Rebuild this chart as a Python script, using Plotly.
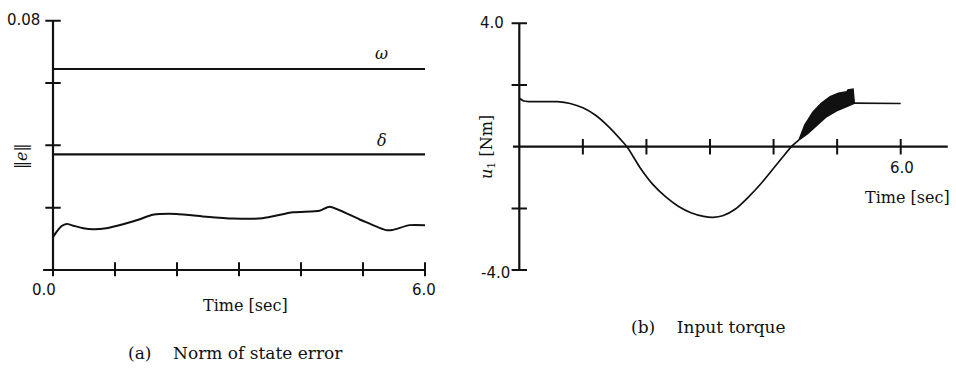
import plotly.graph_objects as go

W, H = 956, 368

# (a) norm of state error
t_err = [0.0, 0.06, 0.14, 0.22, 0.33, 0.49, 0.65, 0.86, 1.02, 1.13, 1.4, 1.61, 1.99,
         2.47, 2.90, 3.38, 3.87, 4.30, 4.46, 4.94, 5.37, 5.47, 5.75, 6.0]
e_norm = [0.0105, 0.0123, 0.0141, 0.0148, 0.0142, 0.0134, 0.0131, 0.0134, 0.0141, 0.0147,
          0.0163, 0.0177, 0.0180, 0.0171, 0.0165, 0.0166, 0.0185, 0.0190, 0.0203, 0.0163,
          0.0128, 0.0128, 0.0144, 0.0144]
bound_omega = 0.0645
bound_delta = 0.0371
err_xticks = [0, 1, 2, 3, 4, 5, 6]
err_yticks = [0.02, 0.04, 0.06, 0.08]

# (b) input torque
t_u = [0.0, 0.07, 0.15, 0.6, 0.8, 1.0, 1.2, 1.4, 1.6, 1.7, 1.9, 2.1, 2.3, 2.5, 2.7, 2.9,
       3.05, 3.2, 3.4, 3.6, 3.8, 4.0, 4.15, 4.28, 4.40]
u1 = [1.57, 1.48, 1.46, 1.46, 1.40, 1.26, 1.02, 0.66, 0.22, -0.02, -0.68, -1.22, -1.62,
      -1.93, -2.14, -2.26, -2.29, -2.24, -2.02, -1.64, -1.20, -0.70, -0.32, 0.0, 0.22]
# chattering band: upper and lower envelopes
t_band_hi = [4.40, 4.49, 4.62, 4.75, 4.89, 5.02, 5.15, 5.17, 5.25, 5.27]
u_band_hi = [0.22, 0.70, 1.13, 1.41, 1.62, 1.73, 1.78, 1.84, 1.87, 1.41]
t_band_lo = [5.27, 5.15, 4.99, 4.83, 4.68, 4.54, 4.40]
u_band_lo = [1.41, 1.30, 1.16, 0.97, 0.70, 0.43, 0.22]
t_tail = [5.27, 5.30, 6.0]
u_tail = [1.41, 1.41, 1.40]
u_xticks = [1, 2, 3, 4, 5, 6]
u_yticks = [-4, -2, 2, 4]

INK = "#111111"
SERIF = "DejaVu Serif"
SANS = "DejaVu Sans"


def px(x):
    return x / W


def py(y):
    return 1 - y / H


fig = go.Figure()


def line(x, y, xa, ya, width=1.8, shape="linear"):
    fig.add_trace(go.Scatter(x=x, y=y, mode="lines", xaxis=xa, yaxis=ya,
                             line=dict(color=INK, width=width, shape=shape, smoothing=0.6),
                             hoverinfo="skip"))


def ticks(x, y, xa, ya, symbol):
    fig.add_trace(go.Scatter(x=x, y=y, mode="markers", xaxis=xa, yaxis=ya,
                             marker=dict(symbol=symbol, size=11,
                                         line=dict(color=INK, width=2)),
                             hoverinfo="skip"))


# ---- panel (a) ----
line([-0.16, 6.0], [0, 0], "x", "y", width=2.2)
line([0, 0], [-0.0002, 0.08], "x", "y", width=2.2)
ticks(err_xticks, [0] * len(err_xticks), "x", "y", "line-ns")
ticks([0] * len(err_yticks), err_yticks, "x", "y", "line-ew")
line([0, 6.0], [bound_omega, bound_omega], "x", "y", width=2.2)
line([0, 6.0], [bound_delta, bound_delta], "x", "y", width=2.2)
line(t_err, e_norm, "x", "y", width=2, shape="spline")

# ---- panel (b) ----
line([-0.1, 6.74], [0, 0], "x2", "y2", width=2.2)
line([0, 0], [-4, 4], "x2", "y2", width=2.2)
ticks(u_xticks, [0] * len(u_xticks), "x2", "y2", "line-ns")
ticks([0] * len(u_yticks), u_yticks, "x2", "y2", "line-ew")
line(t_u, u1, "x2", "y2", width=1.7, shape="spline")
fig.add_trace(go.Scatter(x=t_band_hi + t_band_lo, y=u_band_hi + u_band_lo, mode="lines",
                         xaxis="x2", yaxis="y2", fill="toself", fillcolor=INK,
                         line=dict(color=INK, width=1.5), hoverinfo="skip"))
line(t_tail, u_tail, "x2", "y2", width=1.7)

# axis placement in pixels: (a) t 0..6 -> 53..425, e 0..0.08 -> 270..20.7
ax_a = dict(x0=53 - 0.2 * 62, x1=53 + 6.1 * 62, y0=270 + 0.002 * 3116, y1=20.7 - 0.002 * 3116)
# (b) t 0..6 -> 519.3..900.7, u -4..4 -> 270.7..24
sx_b, sy_b = 63.57, 30.84
ax_b = dict(x0=519.3 - 0.2 * sx_b, x1=519.3 + 6.75 * sx_b, y0=146.7 + 4.2 * sy_b, y1=146.7 - 4.2 * sy_b)

hidden = dict(visible=False, showgrid=False, zeroline=False, fixedrange=True)
fig.update_layout(
    width=W, height=H, margin=dict(l=0, r=0, t=0, b=0),
    paper_bgcolor="white", plot_bgcolor="white", showlegend=False,
    xaxis=dict(domain=[px(ax_a["x0"]), px(ax_a["x1"])], range=[-0.2, 6.1], anchor="y", **hidden),
    yaxis=dict(domain=[py(ax_a["y0"]), py(ax_a["y1"])], range=[-0.002, 0.082], anchor="x", **hidden),
    xaxis2=dict(domain=[px(ax_b["x0"]), px(ax_b["x1"])], range=[-0.2, 6.75], anchor="y2", **hidden),
    yaxis2=dict(domain=[py(ax_b["y0"]), py(ax_b["y1"])], range=[-4.2, 4.2], anchor="x2", **hidden),
)


def label(text, x, y, size=15, family=SERIF, angle=0, style="normal"):
    fig.add_annotation(text=text, x=px(x), y=py(y), xref="paper", yref="paper",
                       showarrow=False, textangle=angle, xanchor="center", yanchor="middle",
                       font=dict(family=family, size=size, color=INK, style=style))


# panel (a) labels
label("0.08", 23, 20, size=15, family=SANS)
label("0.0", 43.5, 290, size=15, family=SANS)
label("6.0", 424, 290, size=15, family=SANS)
label("Time [sec]", 245, 305, size=16)
label("‖e‖", 22, 157, size=16, angle=-90, style="italic")
label("ω", 381, 53, size=16, style="italic")
label("δ", 382, 140, size=16, style="italic")
label("(a)    Norm of state error", 235, 353, size=17)

# panel (b) labels
label("4.0", 492, 23, size=15, family=SANS)
label("-4.0", 495, 273, size=15, family=SANS)
label("6.0", 902, 168, size=15, family=SANS)
label("Time [sec]", 907, 197, size=16)
label("<i>u</i><sub>1</sub> [Nm]", 488, 147, size=16, angle=-90)
label("(b)    Input torque", 708, 327, size=17)

fig.write_html("out.html")
